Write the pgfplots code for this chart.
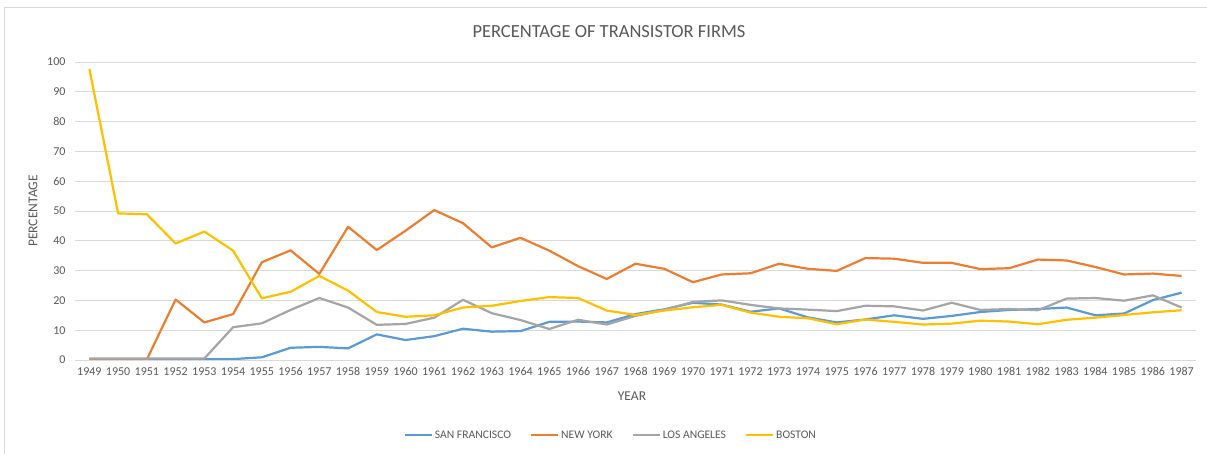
\documentclass[border=0pt]{standalone}
\usepackage{pgfplots}
\pgfplotsset{compat=1.18}
\usepackage{fontspec}
\setmainfont{Carlito}
\definecolor{sfblue}{HTML}{5B9BD5}
\definecolor{nyorange}{HTML}{ED7D31}
\definecolor{lagray}{HTML}{A5A5A5}
\definecolor{bosgold}{HTML}{FFC000}
\definecolor{txt}{HTML}{595959}
\definecolor{gridc}{HTML}{D9D9D9}
\begin{document}
\begin{tikzpicture}
\useasboundingbox (0pt,0pt) rectangle (1207pt,454pt);
\fill[white] (0pt,0pt) rectangle (1207pt,454pt);
\draw[gridc, line width=0.8pt] (4.5pt,-5pt) -- (4.5pt,447pt) -- (1212pt,447pt);
\node[txt, font=\fontsize{18.5}{20}\selectfont] at (609pt,422pt) {PERCENTAGE OF TRANSISTOR FIRMS};
\node[txt, font=\fontsize{13.5}{15}\selectfont, rotate=90] at (33pt,243pt) {PERCENTAGE};
\node[txt, font=\fontsize{13.5}{15}\selectfont] at (632pt,58pt) {YEAR};
\begin{axis}[
  at={(75pt,94pt)}, anchor=south west,
  scale only axis, width=1121pt, height=298pt,
  xmin=1948.5, xmax=1987.5, ymin=0, ymax=100,
  xtick={1949,1950,...,1987}, ytick={0,10,...,100},
  /pgf/number format/1000 sep={},
  /pgf/number format/assume math mode=true,
  tick label style={txt, font=\fontsize{12}{14}\selectfont},
  xticklabel style={yshift=-4pt},
  yticklabel style={xshift=-6pt},
  major tick length=0pt,
  axis line style={draw=none},
  xmajorgrids=false, ymajorgrids=true,
  major grid style={draw=gridc, line width=0.8pt},
  legend columns=4,
  legend style={at={(0.478,-0.2517)}, anchor=center, draw=none, fill=none,
    font=\fontsize{11.6}{14}\selectfont, text=txt,
    /tikz/every even column/.append style={column sep=17pt},
    inner sep=0pt},
  legend cell align=left,
  legend image code/.code={\draw[#1] (0pt,0pt) -- (27pt,0pt);},
  every axis plot/.append style={line width=2.2pt, line join=round, mark=none},
]
\addplot[sfblue] coordinates {
(1949,0.3)(1950,0.3)(1951,0.3)(1952,0.3)(1953,0.3)(1954,0.3)(1955,0.9)(1956,4.1)(1957,4.4)(1958,3.9)
(1959,8.6)(1960,6.7)(1961,8.0)(1962,10.5)(1963,9.5)(1964,9.7)(1965,12.8)(1966,12.9)(1967,12.6)(1968,15.4)
(1969,17.0)(1970,19.2)(1971,18.6)(1972,16.2)(1973,17.3)(1974,14.3)(1975,12.6)(1976,13.6)(1977,15.0)(1978,13.8)
(1979,14.8)(1980,16.1)(1981,16.8)(1982,17.1)(1983,17.6)(1984,15.0)(1985,15.6)(1986,20.1)(1987,22.6)};
\addlegendentry{SAN FRANCISCO}
\addplot[nyorange] coordinates {
(1949,0)(1950,0)(1951,0.2)(1952,20.3)(1953,12.6)(1954,15.4)(1955,32.8)(1956,36.8)(1957,28.9)(1958,44.7)
(1959,36.9)(1960,43.4)(1961,50.3)(1962,45.9)(1963,37.8)(1964,41.0)(1965,36.7)(1966,31.5)(1967,27.2)(1968,32.3)
(1969,30.6)(1970,26.1)(1971,28.7)(1972,29.1)(1973,32.3)(1974,30.6)(1975,29.9)(1976,34.2)(1977,34.0)(1978,32.6)
(1979,32.6)(1980,30.5)(1981,30.8)(1982,33.7)(1983,33.4)(1984,31.2)(1985,28.7)(1986,29.0)(1987,28.2)};
\addlegendentry{NEW YORK}
\addplot[lagray] coordinates {
(1949,0.5)(1950,0.5)(1951,0.5)(1952,0.5)(1953,0.5)(1954,11.0)(1955,12.3)(1956,16.8)(1957,20.8)(1958,17.6)
(1959,11.8)(1960,12.1)(1961,14.2)(1962,20.2)(1963,15.7)(1964,13.4)(1965,10.4)(1966,13.5)(1967,11.9)(1968,14.8)
(1969,16.8)(1970,19.5)(1971,20.0)(1972,18.5)(1973,17.3)(1974,16.9)(1975,16.4)(1976,18.2)(1977,18.0)(1978,16.6)
(1979,19.2)(1980,16.8)(1981,17.1)(1982,16.7)(1983,20.6)(1984,20.8)(1985,19.9)(1986,21.7)(1987,17.6)};
\addlegendentry{LOS ANGELES}
\addplot[bosgold] coordinates {
(1949,97.7)(1950,49.2)(1951,48.9)(1952,39.1)(1953,43.1)(1954,36.7)(1955,20.7)(1956,22.9)(1957,28.2)(1958,23.3)
(1959,16.1)(1960,14.5)(1961,15.0)(1962,17.6)(1963,18.2)(1964,19.8)(1965,21.1)(1966,20.8)(1967,16.6)(1968,15.1)
(1969,16.6)(1970,17.7)(1971,18.5)(1972,15.9)(1973,14.5)(1974,14.0)(1975,12.0)(1976,13.6)(1977,12.8)(1978,11.9)
(1979,12.2)(1980,13.2)(1981,12.9)(1982,12.0)(1983,13.5)(1984,14.2)(1985,15.1)(1986,16.0)(1987,16.7)};
\addlegendentry{BOSTON}
\end{axis}
\end{tikzpicture}
\end{document}
